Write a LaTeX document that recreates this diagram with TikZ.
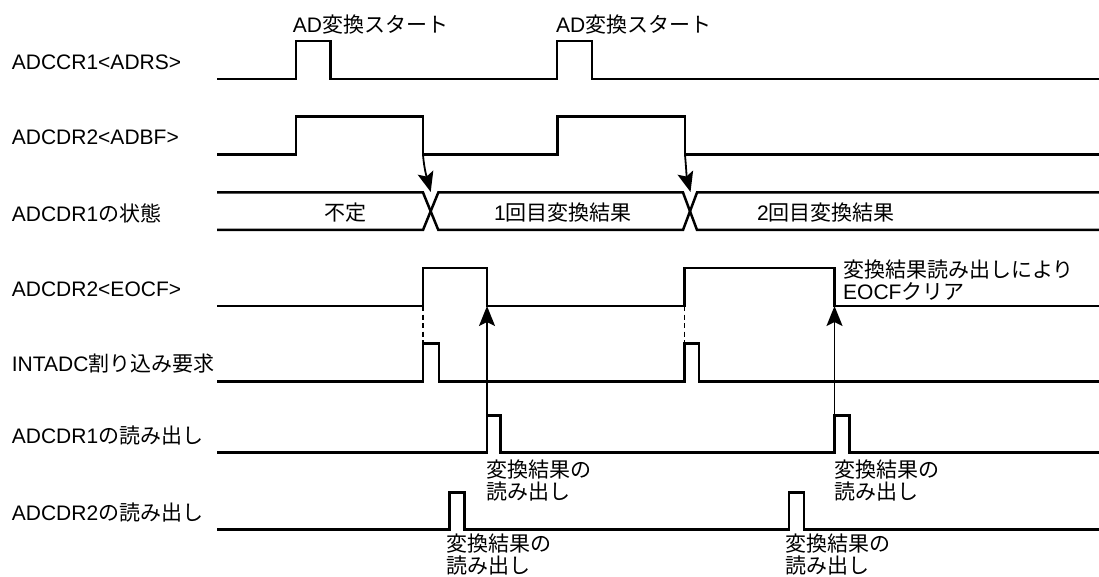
\documentclass[tikz,border=0pt]{standalone}
\usepackage{fontspec}
\setmainfont{Liberation Sans}
\newfontfamily\jp{Noto Sans CJK JP}
\usetikzlibrary{arrows.meta}
\begin{document}
\begin{tikzpicture}[x=1pt,y=-1pt,
  wave/.style={line width=2.5pt,line join=miter},
  arr/.style={line width=1.8pt,-{Stealth[length=20pt,width=16pt,inset=4pt]}},
  dashline/.style={line width=1.8pt,dash pattern=on 5pt off 3.5pt},
  lbl/.style={anchor=west,inner sep=0pt,font=\fontsize{21pt}{22pt}\selectfont},
  note/.style={anchor=north west,inner sep=0pt,align=left,font=\fontsize{21pt}{21.5pt}\selectfont\jp},
  ctr/.style={inner sep=0pt,font=\fontsize{21pt}{22pt}\selectfont}]
\useasboundingbox[fill=white] (0,0) rectangle (1099,577);

% signal names
\node[lbl] (n1) at (11.7,62) {ADCCR1<ADRS>};
\node[lbl] (n2) at (11.7,137) {ADCDR2<ADBF>};
\node[lbl] (n3) at (11.7,213) {ADCDR1{\jp の状態}};
\node[lbl] (n4) at (11.7,289) {ADCDR2<EOCF>};
\node[lbl] (n5) at (11.7,364) {INTADC{\jp 割り込み要求}};
\node[lbl] (n6) at (11.7,436) {ADCDR1{\jp の読み出し}};
\node[lbl] (n7) at (11.7,513) {ADCDR2{\jp の読み出し}};

% waveforms
\draw[wave] (217,79)--(296,79)--(296,41)--(330.7,41)--(330.7,79)--(557,79)--(557,41)--(592,41)--(592,79)--(1099,79);
\draw[wave] (217,154.3)--(296,154.3)--(296,116.7)--(423,116.7)--(423,154.3)--(557.7,154.3)--(557.7,116.7)--(685,116.7)--(685,154.3)--(1099,154.3);
\draw[wave] (217,192.5)--(423,192.5)--(438.3,230)--(683,230)--(697,192.5)--(1099,192.5);
\draw[wave] (217,230)--(423,230)--(438.3,192.5)--(683,192.5)--(697,230)--(1099,230);
\draw[wave] (217,306)--(423,306)--(423,268)--(487,268)--(487,306)--(684.5,306)--(684.5,268)--(834.5,268)--(834.5,306)--(1099,306);
\draw[wave] (217,381.5)--(423,381.5)--(423,343.3)--(439,343.3)--(439,381.5)--(684.5,381.5)--(684.5,343.3)--(699,343.3)--(699,381.5)--(1099,381.5);
\draw[wave] (217,452.7)--(487,452.7)--(487,415.7)--(500.7,415.7)--(500.7,452.7)--(834.5,452.7)--(834.5,415.7)--(849.3,415.7)--(849.3,452.7)--(1099,452.7);
\draw[wave] (217,529.3)--(449.3,529.3)--(449.3,492.5)--(464.3,492.5)--(464.3,529.3)--(789,529.3)--(789,492.5)--(804,492.5)--(804,529.3)--(1099,529.3);

% event points
\coordinate (bf1) at (423,155);
\coordinate (bf2) at (685,155);
\coordinate (x1) at (430.7,192);
\coordinate (x2) at (690.5,192);
\coordinate (ef1r) at (423,306);
\coordinate (ef2r) at (684.5,306);
\coordinate (in1) at (423,343.3);
\coordinate (in2) at (684.5,343.3);
\coordinate (ef1f) at (487,306);
\coordinate (ef2f) at (834.5,306);
\coordinate (rd1) at (487,416);
\coordinate (rd2) at (834.5,416);

% causal arrows
\draw[arr] (bf1) to[out=-85,in=105] (x1);
\draw[arr] (bf2) to[out=-85,in=105] (x2);
\draw[dashline] (ef1r) -- (in1);
\draw[dashline] (ef2r) -- (in2);
\draw[arr] (rd1) -- (ef1f);
\draw[arr] (rd2) -- (ef2f);

% texts
\node[lbl] (s1) at (292.7,25) {AD{\jp 変換スタート}};
\node[lbl] (s2) at (556,25) {AD{\jp 変換スタート}};
\node[ctr] (b0) at (345,213) {\jp 不定};
\node[ctr] (b1) at (563,213) {1{\jp 回目変換結果}};
\node[ctr] (b2) at (826,213) {2{\jp 回目変換結果}};
\node[note] (c1) at (843,260) {変換結果読み出しにより\\{\fontspec{Liberation Sans}EOCF}クリア};
\node[note] (r1a) at (486,460) {変換結果の\\読み出し};
\node[note] (r1b) at (834,460) {変換結果の\\読み出し};
\node[note] (r2a) at (446,534) {変換結果の\\読み出し};
\node[note] (r2b) at (785,534) {変換結果の\\読み出し};
\end{tikzpicture}
\end{document}
